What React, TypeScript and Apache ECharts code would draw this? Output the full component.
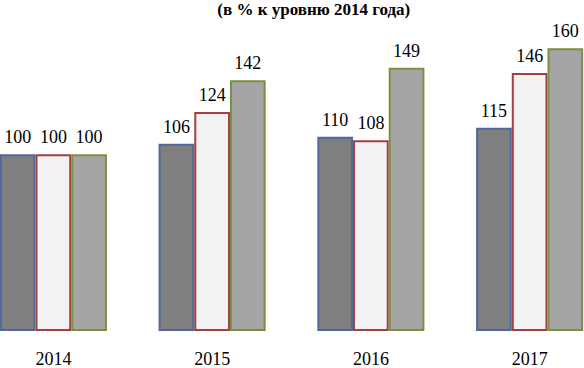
import React, { useEffect, useRef } from "react";
import * as echarts from "echarts";

const years = ["2014", "2015", "2016", "2017"];
const seriesA = [100, 106, 110, 115];
const seriesB = [100, 124, 108, 146];
const seriesC = [100, 142, 149, 160];
const titleText = "(в % к уровню 2014 года)";

const FONT = "Liberation Serif";
const OFFSET = 25.8;
const CHART_W = 634.6;

export default function App() {
  const ref = useRef<HTMLDivElement>(null);
  useEffect(() => {
    if (!ref.current) return;
    const chart = echarts.init(ref.current, undefined, { renderer: "svg" });
    const mk = (name: string, data: number[], fill: string, border: string) => ({
      name,
      type: "bar",
      data,
      barWidth: 35.7,
      barGap: "0%",
      itemStyle: { color: fill, borderColor: border, borderWidth: 2 },
      label: {
        show: true,
        position: "top",
        distance: 8,
        color: "#000",
        fontFamily: FONT,
        fontSize: 18,
      },
    });
    chart.setOption({
      animation: false,
      backgroundColor: "#fff",
      title: {
        text: titleText,
        left: 309 + OFFSET,
        textAlign: "center",
        top: -4,
        textStyle: { fontFamily: FONT, fontSize: 17, fontWeight: "bold", color: "#000" },
      },
      grid: { left: 0, right: 0, top: 13, bottom: 35 },
      xAxis: {
        type: "category",
        data: years,
        axisLine: { show: false },
        axisTick: { show: false },
        axisLabel: { color: "#000", fontFamily: FONT, fontSize: 18, margin: 19 },
      },
      yAxis: {
        type: "value",
        min: 0,
        max: 180,
        show: false,
        splitLine: { show: false },
      },
      series: [
        mk("A", seriesA, "#7f7f7f", "#4f6a9a"),
        mk("B", seriesB, "#f2f2f2", "#a04040"),
        mk("C", seriesC, "#a5a5a5", "#7a9040"),
      ],
    });
    return () => chart.dispose();
  }, []);
  return (
    <div style={{ position: "absolute", left: 0, top: 0, width: 584, height: 368, overflow: "hidden", background: "#fff" }}>
      <div ref={ref} style={{ width: CHART_W, height: 368, position: "absolute", left: -OFFSET, top: 0 }} />
    </div>
  );
}
